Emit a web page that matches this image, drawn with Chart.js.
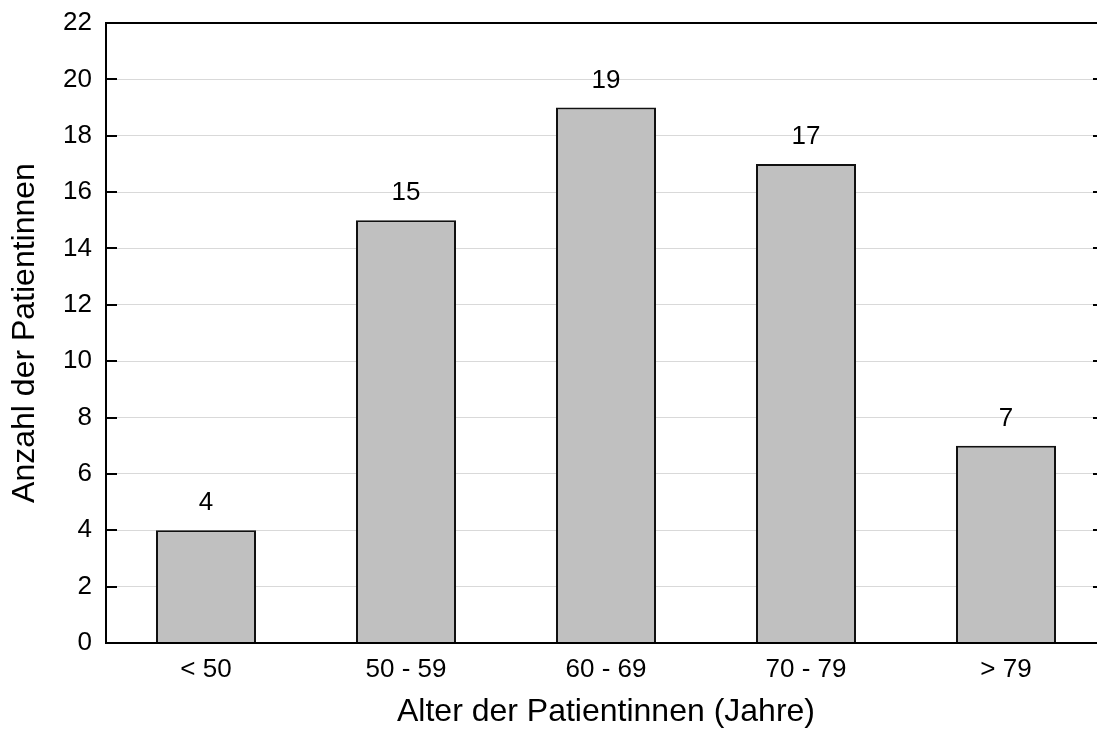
<!DOCTYPE html>
<html>
<head>
<meta charset="utf-8">
<script src="https://cdn.jsdelivr.net/npm/chart.js@4/dist/chart.umd.min.js"></script>
<style>
  html, body { margin: 0; padding: 0; background: #fff; overflow: hidden; }
  #wrap { width: 1120px; height: 731px; }
</style>
</head>
<body>
<div id="wrap"><canvas id="ageChart" width="1120" height="731"></canvas></div>
<script>
// categories and counts
const ageGroups = ['< 50', '50 - 59', '60 - 69', '70 - 79', '> 79'];
const patientCounts = [4, 15, 19, 17, 7];
const yTickValues = [0, 2, 4, 6, 8, 10, 12, 14, 16, 18, 20, 22];

const xTitle = 'Alter der Patientinnen (Jahre)';
const yTitle = 'Anzahl der Patientinnen';

const FONT = "'Liberation Sans', Arial, sans-serif";

// frame + inward tick marks on left and right
const frameTicks = {
    id: 'frameTicks',
    afterDatasetsDraw(chart) {
        const { ctx, chartArea: a } = chart;
        const ys = chart.scales.y;
        ctx.save();
        ctx.strokeStyle = '#000';
        ctx.lineWidth = 2;
        ys.ticks.forEach(t => {
            const py = Math.round(ys.getPixelForValue(t.value));
            ctx.beginPath();
            ctx.moveTo(a.left, py);
            ctx.lineTo(a.left + 11, py);
            ctx.moveTo(a.right - 13, py);
            ctx.lineTo(a.right, py);
            ctx.stroke();
        });
        ctx.strokeRect(a.left, a.top, a.right - a.left, a.bottom - a.top);
        ctx.restore();
    }
};

// count labels above each bar
const barValues = {
    id: 'barValues',
    afterDatasetsDraw(chart) {
        const { ctx } = chart;
        const meta = chart.getDatasetMeta(0);
        ctx.save();
        ctx.fillStyle = '#000';
        ctx.font = '26px ' + FONT;
        ctx.textAlign = 'center';
        ctx.textBaseline = 'middle';
        meta.data.forEach((bar, i) => {
            ctx.fillText(String(patientCounts[i]), bar.x, bar.y - 27);
        });
        ctx.restore();
    }
};

new Chart(document.getElementById('ageChart').getContext('2d'), {
    type: 'bar',
    data: {
        labels: ageGroups,
        datasets: [{
            data: patientCounts,
            backgroundColor: '#c0c0c0',
            borderColor: '#111',
            borderWidth: 2,
            barPercentage: 0.5,
            categoryPercentage: 1.0
        }]
    },
    options: {
        responsive: false,
        animation: false,
        layout: { padding: { top: 23, right: 14, left: 0, bottom: 0 } },
        plugins: {
            legend: { display: false },
            tooltip: { enabled: false }
        },
        scales: {
            x: {
                grid: { display: false, drawTicks: false },
                border: { display: false },
                ticks: { color: '#000', font: { family: FONT, size: 26 }, padding: 11 },
                title: {
                    display: true, text: xTitle, color: '#000',
                    font: { family: FONT, size: 32 }, padding: { top: 0, bottom: 0 }
                },
                afterFit: s => {
                    s.height = 88;
                    s.paddingLeft = 0; s.paddingRight = 0;
                }
            },
            y: {
                min: 0,
                max: 22,
                afterBuildTicks: s => { s.ticks = yTickValues.map(v => ({ value: v })); },
                grid: {
                    drawTicks: false,
                    color: ctx => (ctx.tick && (ctx.tick.value === 0 || ctx.tick.value === 22)) ? 'rgba(0,0,0,0)' : '#d9d9d9',
                    lineWidth: 1
                },
                border: { display: false },
                ticks: { color: '#000', font: { family: FONT, size: 26 }, padding: 14 },
                title: {
                    display: true, text: yTitle, color: '#000',
                    font: { family: FONT, size: 32 }, padding: { top: 6, bottom: 0 }
                },
                afterFit: s => {
                    s.width = 106;
                    s.paddingTop = 0; s.paddingBottom = 0;
                }
            }
        }
    },
    plugins: [frameTicks, barValues]
});
</script>
</body>
</html>
